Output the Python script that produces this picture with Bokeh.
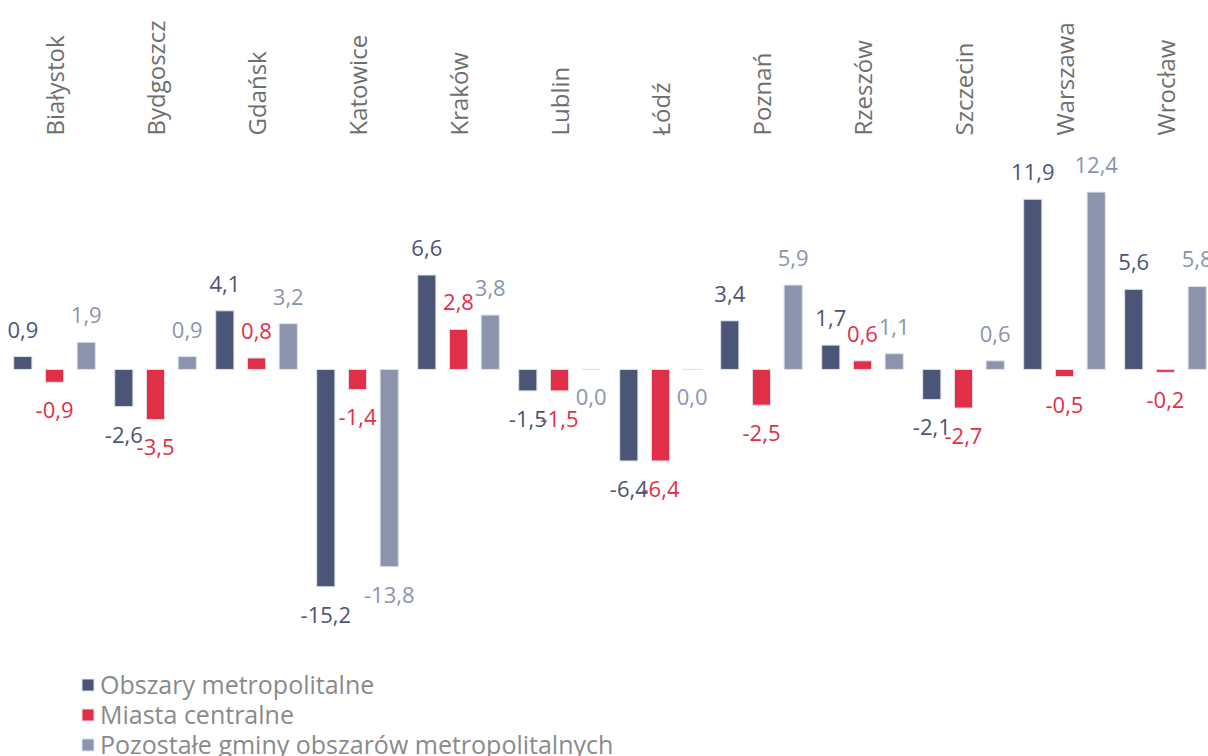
import math
from bokeh.plotting import figure
from bokeh.models import ColumnDataSource, Range1d, FixedTicker, Legend, LegendItem
from bokeh.transform import dodge
from bokeh.core.properties import value
from bokeh.embed import file_html
from bokeh.resources import INLINE

cities = ["Białystok", "Bydgoszcz", "Gdańsk", "Katowice", "Kraków", "Lublin",
          "Łódź", "Poznań", "Rzeszów", "Szczecin", "Warszawa", "Wrocław"]
metro = [0.9, -2.6, 4.1, -15.2, 6.6, -1.5, -6.4, 3.4, 1.7, -2.1, 11.9, 5.6]
central = [-0.9, -3.5, 0.8, -1.4, 2.8, -1.5, -6.4, -2.5, 0.6, -2.7, -0.5, -0.2]
others = [1.9, 0.9, 3.2, -13.8, 3.8, 0.0, 0.0, 5.9, 1.1, 0.6, 12.4, 5.8]
series_names = ["Obszary metropolitalne", "Miasta centralne",
                "Pozostałe gminy obszarów metropolitalnych"]
colors = ["#4a5578", "#e22f48", "#8c94ad"]

FONT = "Open Sans"
xs = list(range(len(cities)))

p = figure(width=1208, height=756, output_backend="svg", toolbar_location=None,
           x_range=Range1d(-0.535, 11.426), y_range=Range1d(-27.07, 16.01),
           x_axis_location="above", y_axis_location=None,
           min_border_left=0, min_border_right=0, min_border_top=140, min_border_bottom=0)
p.outline_line_color = None
p.xgrid.visible = False
p.ygrid.visible = False
p.background_fill_color = "white"

ax = p.xaxis[0]
ax.ticker = FixedTicker(ticks=xs)
ax.major_label_overrides = {i: c for i, c in enumerate(cities)}
ax.major_label_orientation = math.pi / 2
ax.axis_line_color = None
ax.major_tick_line_color = None
ax.minor_tick_line_color = None
ax.major_tick_out = 0
ax.major_tick_in = 0
ax.major_label_text_font = FONT
ax.major_label_text_font_size = "24px"
ax.major_label_text_color = "#6e6e6e"
ax.major_label_standoff = 5

offsets = [-0.314, 0.0, 0.314]
renderers = []
for vals, off, col in zip([metro, central, others], offsets, colors):
    src = ColumnDataSource(dict(
        x=xs, v=vals,
        lab=[f"{v:.1f}".replace(".", ",") for v in vals],
        base=["alphabetic" if v > 0 else "top" for v in vals],
        yoff=[-27 if v > 0 else 20 for v in vals],
    ))
    r = p.vbar(x=dodge("x", off), top="v", bottom=0, width=0.18, source=src,
               fill_color=col, line_color="#dfe1e9", line_width=1)
    renderers.append(r)
    p.text(x=dodge("x", off), y="v", text="lab", source=src,
           text_align="center", text_baseline="base", y_offset="yoff",
           text_font=value(FONT), text_font_size="22px", text_color=col)

# one legend block per series, stacked with a 30px pitch
legend_rows_y = [55, 25, -5]
for name, r, ly in zip(series_names, renderers, legend_rows_y):
    legend = Legend(items=[LegendItem(label=name, renderers=[r])], location=(80, ly))
    legend.border_line_color = None
    legend.background_fill_alpha = 0
    legend.padding = 0
    legend.margin = 0
    legend.spacing = 0
    legend.glyph_width = 15
    legend.glyph_height = 15
    legend.label_standoff = 5
    legend.label_text_font = FONT
    legend.label_text_font_size = "25px"
    legend.label_text_color = "#8a8a8a"
    legend.label_text_baseline = "middle"
    p.add_layout(legend)

open("out.html", "w").write(file_html(p, INLINE))
